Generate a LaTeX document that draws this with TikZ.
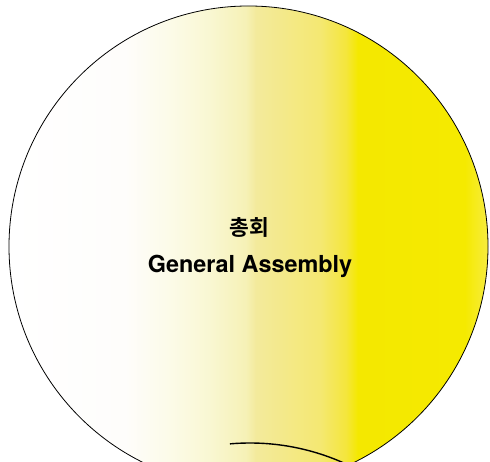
\documentclass[tikz,border=0pt]{standalone}
\usepackage{fontspec}
\setmainfont{TeX Gyre Heros}
\newfontfamily\krfont{Noto Sans CJK KR}[BoldFont={* Bold}]
\definecolor{g0}{HTML}{FFFFFF}
\definecolor{g1}{HTML}{FEFDFB}
\definecolor{g2}{HTML}{FCFBE8}
\definecolor{g3}{HTML}{F9F7D2}
\definecolor{g4}{HTML}{F6F1B6}
\definecolor{g5}{HTML}{F3EA9C}
\definecolor{g6}{HTML}{F4E872}
\definecolor{g7}{HTML}{F4E63C}
\definecolor{g8}{HTML}{F4E800}
\definecolor{g9}{HTML}{F5EA00}
\definecolor{g10}{HTML}{F7EC45}
\tikzset{
  outline/.style={draw=black, line width=0.8pt},
  subarc/.style={draw=black, line width=1.4pt},
  label/.style={inner sep=0pt, anchor=base, text=black}
}
\begin{document}
\begin{tikzpicture}[x=1pt,y=1pt]
\useasboundingbox (0,0) rectangle (490,462);
\coordinate (c) at (248.5,215.5);
\coordinate (sub) at (250,-211);
\begin{scope}
  \clip (0,0) rectangle (490,462);
  \begin{scope}
    \clip (c) ellipse [x radius=239.5, y radius=240.5];
    \fill[g0] (0,-40) rectangle (9,470);
    \shade[left color=g0, right color=g1] (9,-40) rectangle (125,470);
    \shade[left color=g1, right color=g2] (124.9,-40) rectangle (170,470);
    \shade[left color=g2, right color=g3] (169.9,-40) rectangle (210,470);
    \shade[left color=g3, right color=g4] (209.9,-40) rectangle (246,470);
    \shade[left color=g4, right color=g5] (245.9,-40) rectangle (256,470);
    \shade[left color=g5, right color=g6] (255.9,-40) rectangle (320,470);
    \shade[left color=g6, right color=g7] (319.9,-40) rectangle (346,470);
    \shade[left color=g7, right color=g8] (345.9,-40) rectangle (358,470);
    \shade[left color=g8, right color=g9] (357.9,-40) rectangle (465,470);
    \shade[left color=g9, right color=g10] (464.9,-40) rectangle (490,470);
  \end{scope}
  \draw[outline] (c) ellipse [x radius=239.5, y radius=240.5];
  \draw[subarc] (sub) ++(95:230) arc[start angle=95, end angle=60, radius=230];
\end{scope}
\node[label, font=\krfont\bfseries\fontsize{21.5}{24}\selectfont] (kr) at (249,226.5) {총회};
\node[label, font=\bfseries\fontsize{23.4}{26}\selectfont] (en) at (250,189) {General Assembly};
\end{tikzpicture}
\end{document}
